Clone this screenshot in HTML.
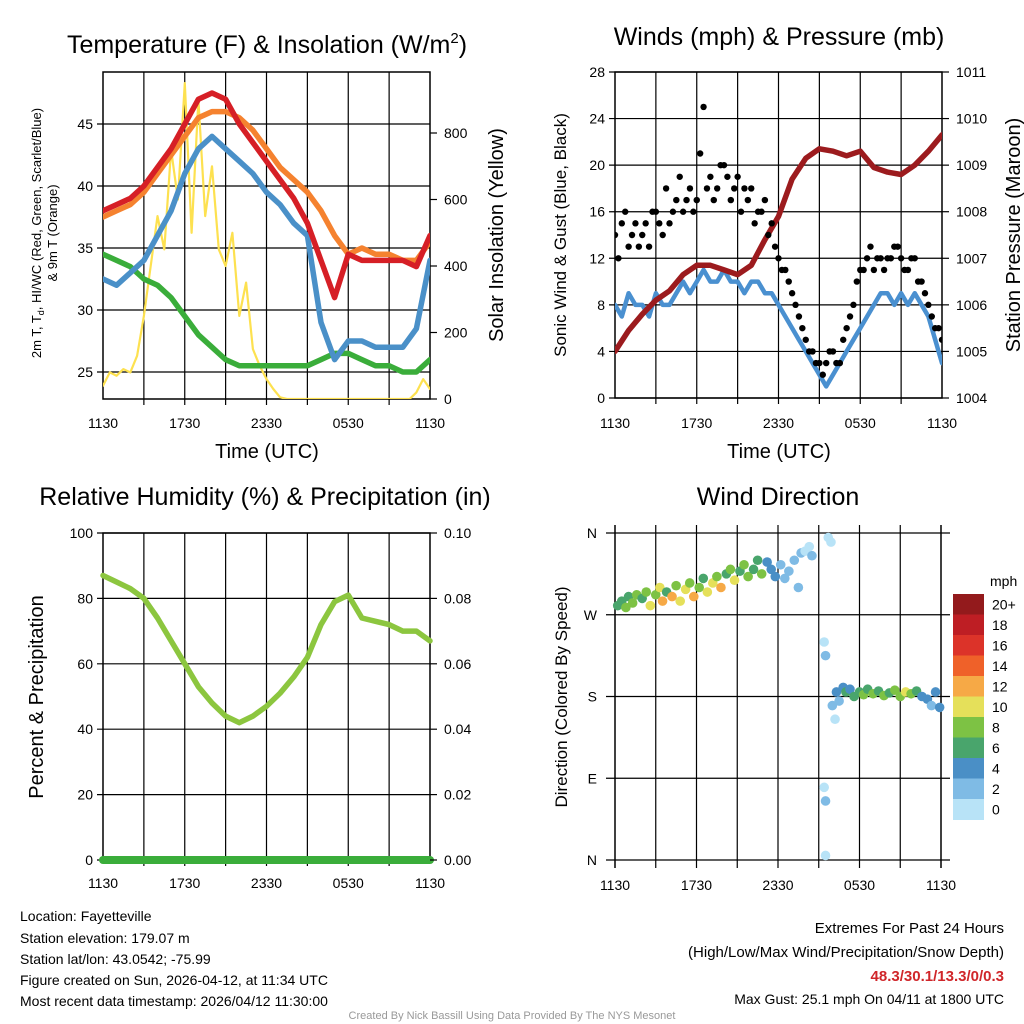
<!DOCTYPE html>
<html><head><meta charset="utf-8"><style>
html,body{margin:0;padding:0;background:#fff;}
svg{display:block;font-family:"Liberation Sans",Arial,sans-serif;}
</style></head><body>
<svg id="chart" width="1024" height="1024" viewBox="0 0 1024 1024">
<rect width="1024" height="1024" fill="#fff"/>
<g id="p1"></g>
<g id="p2"></g>
<g id="p3"></g>
<g id="p4"></g>
<g font-size="14" fill="#000">
<text x="20" y="921">Location: Fayetteville</text>
<text x="20" y="943">Station elevation: 179.07 m</text>
<text x="20" y="964">Station lat/lon: 43.0542; -75.99</text>
<text x="20" y="985">Figure created on Sun, 2026-04-12, at 11:34 UTC</text>
<text x="20" y="1006">Most recent data timestamp: 2026/04/12 11:30:00</text>
</g>
<g font-size="15" text-anchor="end">
<text x="1004" y="933">Extremes For Past 24 Hours</text>
<text x="1004" y="957">(High/Low/Max Wind/Precipitation/Snow Depth)</text>
<text x="1004" y="981" fill="#d0262a" font-weight="bold">48.3/30.1/13.3/0/0.3</text>
<text x="1004" y="1004" font-size="14">Max Gust: 25.1 mph On 04/11 at 1800 UTC</text>
</g>
<text x="512" y="1019" font-size="11" fill="#999" text-anchor="middle">Created By Nick Bassill Using Data Provided By The NYS Mesonet</text>
</svg>
<script>
// ---- data (hours since 1130 UTC) ----
const hourly = [0,1,2,3,4,5,6,7,8,9,10,11,12,13,14,15,16,17,18,19,20,21,22,23,24];
const tempRed = [38,38.5,39,40,41.5,43,45,47,47.5,47,45,43.5,42,40.5,39,37,34,31,34.5,34,34,34,34,33.5,36];
const tempOrange = [37.5,38,38.5,39.5,41,42.5,44,45.5,46,46,45.5,44.5,43,41.5,40.5,39.5,38,36,34.5,35,34.5,34.5,34,34,35.5];
const tempBlue = [32.5,32,33,34,36,38,41,43,44,43,42,41,39.5,38.5,37,36,29,26,27.5,27.5,27,27,27,28.5,34];
const tempGreen = [34.5,34,33.5,32.5,32,31,29.5,28,27,26,25.5,25.5,25.5,25.5,25.5,25.5,26,26.5,26.5,26,25.5,25.5,25,25,26];
const halfHours = [0,0.5,1,1.5,2,2.5,3,3.5,4,4.5,5,5.5,6,6.5,7,7.5,8,8.5,9,9.5,10,10.5,11,11.5,12,12.5,13,13.5,14,14.5,15,15.5,16,16.5,17,17.5,18,18.5,19,19.5,20,20.5,21,21.5,22,22.5,23,23.5,24];
const insolation = [40,80,70,90,80,130,250,400,550,450,750,600,950,500,900,550,700,450,400,500,250,350,150,100,60,30,5,0,0,0,0,0,0,0,0,0,0,0,0,0,0,0,0,0,0,0,20,60,30];
const sonicWind = [8,7,9,8,8,7,9,8,8,9,10,9,10,11,10,10,11,10,10,9,10,10,9,9,8,7,6,5,4,3,2,1,2,3,4,5,6,7,8,9,9,8,9,8,9,8,7,5,3];
const gustA = [14,15,13,15,14,13,16,14,15,17,16,18,17,25,19,18,20,17,19,18,18,16,17,15,12,11,9,7,5,4,3,3,4,3,6,8,11,12,11,12,12,13,12,11,12,10,8,6,5];
const quarterHours = [0.25,0.75,1.25,1.75,2.25,2.75,3.25,3.75,4.25,4.75,5.25,5.75,6.25,6.75,7.25,7.75,8.25,8.75,9.25,9.75,10.25,10.75,11.25,11.75,12.25,12.75,13.25,13.75,14.25,14.75,15.25,15.75,16.25,16.75,17.25,17.75,18.25,18.75,19.25,19.75,20.25,20.75,21.25,21.75,22.25,22.75,23.25,23.75];
const gustB = [12,16,14,13,15,16,15,18,16,19,17,16,21,18,17,20,19,18,16,17,15,16,14,13,11,10,8,6,4,3,2,4,3,5,7,10,11,13,12,11,12,13,11,12,10,9,7,6];
const pressure = [1005,1005.45,1005.8,1006.1,1006.3,1006.65,1006.85,1006.85,1006.75,1006.65,1006.85,1007.4,1007.9,1008.7,1009.15,1009.35,1009.3,1009.2,1009.3,1008.95,1008.85,1008.8,1009,1009.3,1009.65];
const rh = [87,85,83,80,74,67,60,53,48,44,42,44,47,51,56,62,72,79,81,74,73,72,70,70,67];
const precip = [0,0,0,0,0,0,0,0,0,0,0,0,0,0,0,0,0,0,0,0,0,0,0,0,0];
const wdTime = [0.2,0.5,0.8,1.0,1.3,1.6,2.0,2.3,2.6,3.0,3.3,3.5,3.8,4.2,4.5,4.8,5.2,5.5,5.8,6.2,6.5,6.8,7.2,7.5,7.8,8.2,8.5,8.8,9.2,9.5,9.8,10.2,10.5,10.8,11.2,11.5,11.8,12.2,12.5,12.8,13.2,13.5,13.7,14.0,14.3,14.5,15.4,15.5,15.4,15.5,15.5,15.7,15.9,16.0,16.2,16.3,16.5,16.8,17.0,17.3,17.6,18.0,18.3,18.6,19.0,19.4,19.8,20.2,20.6,21.0,21.4,21.8,22.2,22.6,23.0,23.3,23.6,23.9];
const wdDir = [280,285,278,290,283,292,288,295,280,292,300,285,295,290,302,285,298,305,290,300,310,295,305,312,300,315,320,308,318,325,312,320,330,315,328,320,312,325,310,318,330,300,338,340,345,335,240,225,80,65,5,355,350,170,155,185,175,190,185,188,180,185,182,188,183,186,181,184,187,180,185,183,186,180,177,170,185,168];
const wdSpeed = [7,6,8,7,9,8,6,9,11,8,10,12,7,13,9,11,10,8,12,9,7,11,10,8,12,7,9,10,6,8,9,7,6,8,5,4,4,3,2,3,2,2,2,1,1,3,1,2,1,2,1,1,1,2,1,4,3,5,6,4,7,6,8,7,8,6,9,7,8,9,10,8,6,5,4,3,5,4];
const xTicks = ["1130","1730","2330","0530","1130"];
const speedLabels = ["20+","18","16","14","12","10","8","6","4","2","0"];
const speedColors = ["#931a1c","#be1e24","#dc3329","#ef6129","#f6a946","#e5e05a","#7dc244","#49a56c","#4a8fc6","#7fbbe5","#b8e3f7"];
// ---- helpers ----
const NS="http://www.w3.org/2000/svg";
function mk(parent,tag,attrs){const e=document.createElementNS(NS,tag);for(const k in attrs)e.setAttribute(k,attrs[k]);parent.appendChild(e);return e;}
function linScale(d0,d1,r0,r1){return v=>r0+(v-d0)/(d1-d0)*(r1-r0);}
function frame(g,L,R,T,B,yTicks,yScale,yLabels,xLabY){
  const xs=linScale(0,24,L,R);
  for(let h=3;h<24;h+=3){const ln=mk(g,'line',{x1:xs(h),x2:xs(h),y1:T,y2:B+6,stroke:'#000','stroke-width':1.2});
    
    }
  yTicks.forEach((v,i)=>{const y=yScale(v);
    const ln=mk(g,'line',{x1:L-6,x2:R,y1:y,y2:y,stroke:'#000','stroke-width':1.2});
    
    
    const t=mk(g,'text',{x:L-10,y:y+5,'font-size':14,'text-anchor':'end'});t.textContent=yLabels[i];
    
    });
  xTicks.forEach((lab,i)=>{const x=xs(i*6);
    const t=mk(g,'text',{x:x,y:xLabY,'font-size':14,'text-anchor':'middle'});t.textContent=lab;
    
    });
  const r=mk(g,'rect',{x:L,y:T,width:R-L,height:B-T,fill:'none',stroke:'#000','stroke-width':1.5});
  
  
  return xs;
}
function line(g,xs,ys,X,Y,color,w,name){
  const d=X.map((x,i)=>(i?'L':'M')+xs(x).toFixed(1)+','+ys(Y[i]).toFixed(1)).join('');
  const p=mk(g,'path',{d:d,fill:'none',stroke:color,'stroke-width':w,'stroke-linejoin':'round','stroke-linecap':'round'});
  
  
  return p;
}
function txt(g,attrs,s,name){const t=mk(g,'text',attrs);t.textContent=s;
  
  return t;}
function rightTicks(g,R,vals,scale,labels){vals.forEach((v,i)=>{const y=scale(v);
  mk(g,'line',{x1:R,x2:R+7,y1:y,y2:y,stroke:'#000','stroke-width':1.2});
  txt(g,{x:R+14,y:y+5,'font-size':14},labels[i],'right-tick-label');});}
// ---- panel 1 ----
(function(){
  const g=document.getElementById('p1');const L=103,R=430,T=72,B=399;
  const ys=linScale(25,45,372,124);const yr=linScale(0,800,399,133);
  const xs=frame(g,L,R,T,B,[25,30,35,40,45],ys,['25','30','35','40','45'],428);
  const cp=mk(g,'clipPath',{id:'c1'});mk(cp,'rect',{x:L,y:T,width:R-L,height:B-T});
  const d=mk(g,'g',{'clip-path':'url(#c1)'});
  line(d,xs,yr,halfHours,insolation,'#fde150',2.2,'insolation-line');
  line(d,xs,ys,hourly,tempGreen,'#3aad3a',5.5,'dewpoint-line');
  line(d,xs,ys,hourly,tempBlue,'#4a90c8',5.5,'windchill-line');
  line(d,xs,ys,hourly,tempOrange,'#f5822f',5.5,'temp-9m-line');
  line(d,xs,ys,hourly,tempRed,'#d61f26',5.5,'temp-2m-line');
  rightTicks(g,R,[0,200,400,600,800],yr,['0','200','400','600','800']);
  const ti=txt(g,{x:267,y:53,'font-size':25,'text-anchor':'middle'},'Temperature (F) & Insolation (W/m','panel1-title');
  const sup=mk(ti,'tspan',{dy:-10,'font-size':15});sup.textContent='2';
  const cl=mk(ti,'tspan',{dy:10});cl.textContent=')';
  txt(g,{x:267,y:458,'font-size':20,'text-anchor':'middle'},'Time (UTC)','panel1-x-title');
  const yl=txt(g,{transform:'translate(41,233) rotate(-90)','font-size':13,'text-anchor':'middle'},'2m T, T','panel1-y-title');
  const sb=mk(yl,'tspan',{dy:3,'font-size':9});sb.textContent='d';
  const rest=mk(yl,'tspan',{dy:-3});rest.textContent=', HI/WC (Red, Green, Scarlet/Blue)';
  txt(g,{transform:'translate(57,233) rotate(-90)','font-size':13,'text-anchor':'middle'},'& 9m T (Orange)','panel1-y-title-2');
  txt(g,{transform:'translate(503,235) rotate(-90)','font-size':20,'text-anchor':'middle'},'Solar Insolation (Yellow)','panel1-right-title');
})();
// ---- panel 2 ----
(function(){
  const g=document.getElementById('p2');const L=615,R=942,T=72,B=398;
  const ys=linScale(0,28,398,72);const yr=linScale(1004,1011,398,72);
  const xs=frame(g,L,R,T,B,[0,4,8,12,16,20,24,28],ys,['0','4','8','12','16','20','24','28'],428);
  const cp=mk(g,'clipPath',{id:'c2'});mk(cp,'rect',{x:L,y:T,width:R-L,height:B-T});
  const d=mk(g,'g',{'clip-path':'url(#c2)'});
  line(d,xs,ys,halfHours,sonicWind,'#4a90d0',4.5,'sonic-wind-line');
  line(d,xs,yr,hourly,pressure,'#9c1b1e',5.5,'pressure-line');
  halfHours.forEach((h,i)=>{const c=mk(d,'circle',{cx:xs(h),cy:ys(gustA[i]),r:3.2,fill:'#000'});
    
    });
  quarterHours.forEach((h,i)=>{const c=mk(d,'circle',{cx:xs(h),cy:ys(gustB[i]),r:3.2,fill:'#000'});
    
    });
  rightTicks(g,R,[1004,1005,1006,1007,1008,1009,1010,1011],yr,['1004','1005','1006','1007','1008','1009','1010','1011']);
  txt(g,{x:779,y:45,'font-size':25,'text-anchor':'middle'},'Winds (mph) & Pressure (mb)','panel2-title');
  txt(g,{x:779,y:458,'font-size':20,'text-anchor':'middle'},'Time (UTC)','panel2-x-title');
  txt(g,{transform:'translate(566,235) rotate(-90)','font-size':17,'text-anchor':'middle'},'Sonic Wind & Gust (Blue, Black)','panel2-y-title');
  txt(g,{transform:'translate(1020,235) rotate(-90)','font-size':20,'text-anchor':'middle'},'Station Pressure (Maroon)','panel2-right-title');
})();
// ---- panel 3 ----
(function(){
  const g=document.getElementById('p3');const L=103,R=430,T=533,B=860;
  const ys=linScale(0,100,860,533);const yr=linScale(0,0.1,860,533);
  const xs=frame(g,L,R,T,B,[0,20,40,60,80,100],ys,['0','20','40','60','80','100'],888);
  line(g,xs,yr,hourly,precip,'#3aad3a',8,'precip-line');
  line(g,xs,ys,hourly,rh,'#8cc63f',5.5,'rh-line');
  rightTicks(g,R,[0,0.02,0.04,0.06,0.08,0.1],yr,['0.00','0.02','0.04','0.06','0.08','0.10']);
  txt(g,{x:265,y:505,'font-size':25,'text-anchor':'middle'},'Relative Humidity (%) & Precipitation (in)','panel3-title');
  txt(g,{transform:'translate(43,697) rotate(-90)','font-size':20,'text-anchor':'middle'},'Percent & Precipitation','panel3-y-title');
})();
// ---- panel 4 ----
(function(){
  const g=document.getElementById('p4');const L=615,R=941,T=533,B=860;
  const ys=linScale(0,360,860,533);
  const xs=linScale(0,24,L,R);
  for(let h=3;h<24;h+=3){const ln=mk(g,'line',{x1:xs(h),x2:xs(h),y1:T-8,y2:B+8,stroke:'#000','stroke-width':1.2});
    
    }
  [0,90,180,270,360].forEach((v,i)=>{const y=ys(v);
    const ln=mk(g,'line',{x1:L-9,x2:R+9,y1:y,y2:y,stroke:'#000','stroke-width':1.2});
    
    
    txt(g,{x:L-18,y:y+5,'font-size':14,'text-anchor':'end'},['N','E','S','W','N'][i],'y-tick-label');});
  [L,R].forEach(x=>{const ln=mk(g,'line',{x1:x,x2:x,y1:T-8,y2:B+8,stroke:'#000','stroke-width':1.5});
    
    });
  xTicks.forEach((lab,i)=>txt(g,{x:xs(i*6),y:B+30,'font-size':14,'text-anchor':'middle'},lab,'x-tick-label'));
  function col(s){let k=Math.min(10,Math.floor(s/2));return speedColors[10-k];}
  wdTime.forEach((h,i)=>{const c=mk(g,'circle',{cx:xs(h),cy:ys(wdDir[i]),r:4.8,fill:col(wdSpeed[i])});
    
    });
  const bx=953,bw=31,by=594,bh=20.5;
  speedLabels.forEach((lab,i)=>{const r=mk(g,'rect',{x:bx,y:by+i*bh,width:bw,height:bh+0.5,fill:speedColors[i]});
    
    
    txt(g,{x:992,y:by+i*bh+bh/2+5,'font-size':14},lab,'colorbar-label');});
  txt(g,{x:990,y:586,'font-size':14},'mph','colorbar-title');
  txt(g,{x:778,y:505,'font-size':25,'text-anchor':'middle'},'Wind Direction','panel4-title');
  txt(g,{transform:'translate(567,697) rotate(-90)','font-size':17,'text-anchor':'middle'},'Direction (Colored By Speed)','panel4-y-title');
})();
</script>
</body></html>
